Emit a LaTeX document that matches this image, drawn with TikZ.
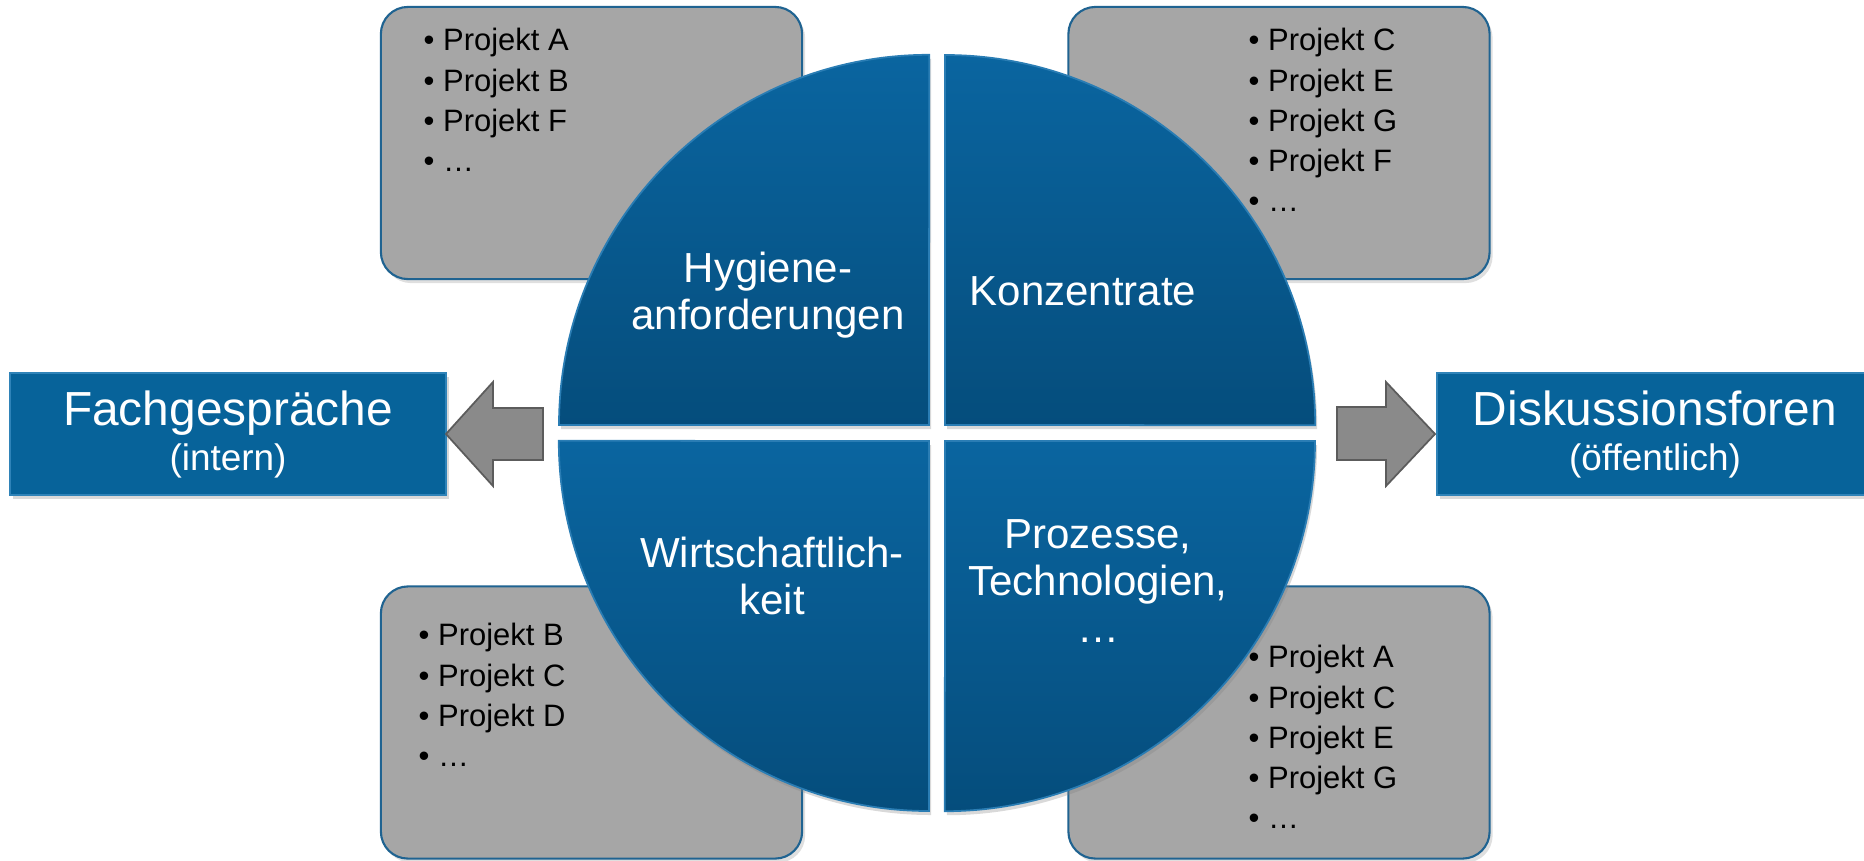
\documentclass[tikz,border=0pt]{standalone}
\usepackage{fontspec}
\setmainfont{Liberation Sans}
\usetikzlibrary{positioning,shadows}
\definecolor{QuadTop}{HTML}{0A65A0}
\definecolor{QuadBot}{HTML}{054D7C}
\definecolor{QuadRim}{HTML}{2A7DB4}
\definecolor{Panel}{HTML}{A6A6A6}
\definecolor{PanelRim}{HTML}{1F6391}
\definecolor{Forum}{HTML}{07639A}
\definecolor{ForumRim}{HTML}{2F83B8}
\definecolor{Pointer}{HTML}{8A8A8A}
\definecolor{PointerRim}{HTML}{5C5C5C}

\begin{document}
\begin{tikzpicture}[x=0.01cm,y=-0.01cm,
  panel/.style={draw=PanelRim,line width=0.6pt,fill=Panel,rounded corners=0.27cm,
    minimum width=4.21cm,minimum height=2.72cm,inner sep=0pt,
    drop shadow={opacity=0.25,shadow xshift=0.03cm,shadow yshift=-0.04cm}},
  quad/.style={draw=QuadRim,line width=0.5pt,top color=QuadTop,bottom color=QuadBot,
    drop shadow={opacity=0.3,shadow xshift=0.02cm,shadow yshift=-0.04cm}},
  quadlabel/.style={text=white,align=center,inner sep=0pt,font=\fontsize{11.95}{13.4}\selectfont},
  itemlist/.style={align=left,anchor=north west,inner sep=0pt,font=\fontsize{8.8}{11.4}\selectfont},
  forum/.style={draw=ForumRim,line width=0.6pt,fill=Forum,text=white,align=center,
    minimum width=4.36cm,minimum height=1.22cm,inner sep=0pt,font=\fontsize{13.6}{12.8}\selectfont,
    drop shadow={opacity=0.3,shadow xshift=0.03cm,shadow yshift=-0.04cm}},
  pointer/.style={fill=Pointer,draw=PointerRim,line width=0.5pt,line join=miter}]
  \useasboundingbox (0,0) rectangle (1864,860);

  % project panels behind the circle
  \node[panel] (pnlTL) at (591.5,143) {};
  \node[panel] (pnlTR) at (1279,143) {};
  \node[panel] (pnlBL) at (591.5,722.5) {};
  \node[panel] (pnlBR) at (1279,722.5) {};

  % the four quarters
  \path[quad] (929,425) -- (559,425) arc[start angle=180,end angle=90,radius=3.7cm] -- cycle;
  \path[quad] (945,425) -- (945,55) arc[start angle=90,end angle=0,radius=3.7cm] -- cycle;
  \path[quad] (929,441) -- (929,811) arc[start angle=270,end angle=180,radius=3.7cm] -- cycle;
  \path[quad] (945,441) -- (1315,441) arc[start angle=0,end angle=-90,radius=3.7cm] -- cycle;

  \node[quadlabel] (hyg) at (768,295.5) {Hygiene-\\anforderungen};
  \node[quadlabel] (konz) at (1083,291.7) {Konzentrate};
  \node[quadlabel] (wirt) at (772,576) {Wirtschaftlich-\\keit};
  \node[quadlabel] (proz) at (1098,580.7) {Prozesse,\\Technologien,\\…};

  \node[itemlist] (lstTL) at (423,27.8) {• Projekt A\\• Projekt B\\• Projekt F\\• …};
  \node[itemlist] (lstTR) at (1248,27.8) {• Projekt C\\• Projekt E\\• Projekt G\\• Projekt F\\• …};
  \node[itemlist] (lstBL) at (418,622.8) {• Projekt B\\• Projekt C\\• Projekt D\\• …};
  \node[itemlist] (lstBR) at (1248,644.8) {• Projekt A\\• Projekt C\\• Projekt E\\• Projekt G\\• …};

  \node[forum] (fach) at (228,434)
    {Fachgespräche\\{\fontsize{10.5}{12.8}\selectfont (intern)}};
  \node[forum] (disk) at (1655,434)
    {Diskussionsforen\\{\fontsize{10.5}{12.8}\selectfont (öffentlich)}};

  \draw[pointer] (543,408) -- (493,408) -- (493,382) -- (446,434) -- (493,486) -- (493,460) -- (543,460) -- cycle;
  \draw[pointer] (1337,407) -- (1386,407) -- (1386,382) -- (1435,434) -- (1386,486) -- (1386,460) -- (1337,460) -- cycle;
\end{tikzpicture}
\end{document}
